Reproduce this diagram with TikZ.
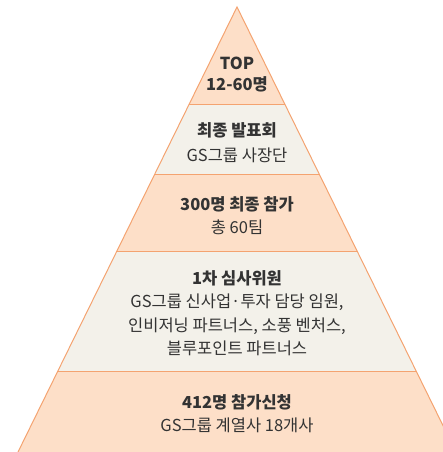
\documentclass[tikz,border=0pt]{standalone}
\usepackage{fontspec}
\setmainfont{Noto Sans CJK KR}
\definecolor{peach}{HTML}{FDDFC8}
\definecolor{beige}{HTML}{F3F1EA}
\definecolor{edge}{HTML}{F4A370}
\definecolor{ink}{HTML}{333333}
\begin{document}
\begin{tikzpicture}[x=1pt,y=-1pt,
  tier/.style={draw=edge,line width=1pt,line join=miter},
  hd/.style={anchor=base,text=ink,font=\fontsize{16.5}{20}\selectfont\bfseries,inner sep=0pt},
  tx/.style={anchor=base,text=ink,font=\fontsize{16.5}{20}\selectfont,inner sep=0pt}]
\useasboundingbox (0,0) rectangle (443,452);
\begin{scope}
\clip (0,0) rectangle (443,452);
\coordinate (apex) at (237,7);
\coordinate (l1) at (189.3,104); \coordinate (r1) at (284.7,104);
\coordinate (l2) at (154.8,174); \coordinate (r2) at (319.2,174);
\coordinate (l3) at (117,251); \coordinate (r3) at (357,251);
\coordinate (l4) at (57.9,371); \coordinate (r4) at (416.1,371);
\coordinate (l5) at (18,452); \coordinate (r5) at (456,452);
\fill[peach] (apex) -- (r1) -- (l1) -- cycle;
\fill[beige] (l1) -- (r1) -- (r2) -- (l2) -- cycle;
\fill[peach] (l2) -- (r2) -- (r3) -- (l3) -- cycle;
\fill[beige] (l3) -- (r3) -- (r4) -- (l4) -- cycle;
\fill[peach] (l4) -- (r4) -- (r5) -- (l5) -- cycle;
\draw[tier] (l5) -- (apex) -- (r5);
\draw[tier] (l1) -- (r1);
\draw[tier] (l2) -- (r2);
\draw[tier] (l3) -- (r3);
\draw[tier] (l4) -- (r4);
\end{scope}
\node[hd] (t1a) at (237,70) {TOP};
\node[hd] (t1b) at (237,90.5) {12-60명};
\node[hd] (t2a) at (237,136.5) {최종 발표회};
\node[tx] (t2b) at (237,161) {GS그룹 사장단};
\node[hd] (t3a) at (237,210.5) {300명 최종 참가};
\node[tx] (t3b) at (237,233.5) {총 60팀};
\node[hd] (t4a) at (237,284) {1차 심사위원};
\node[tx] (t4b) at (237,307) {GS그룹 신사업·투자 담당 임원,};
\node[tx] (t4c) at (237,331) {인비저닝 파트너스, 소풍 벤처스,};
\node[tx] (t4d) at (237,354.5) {블루포인트 파트너스};
\node[hd] (t5a) at (237,408) {412명 참가신청};
\node[tx] (t5b) at (237,431.5) {GS그룹 계열사 18개사};
\end{tikzpicture}
\end{document}
